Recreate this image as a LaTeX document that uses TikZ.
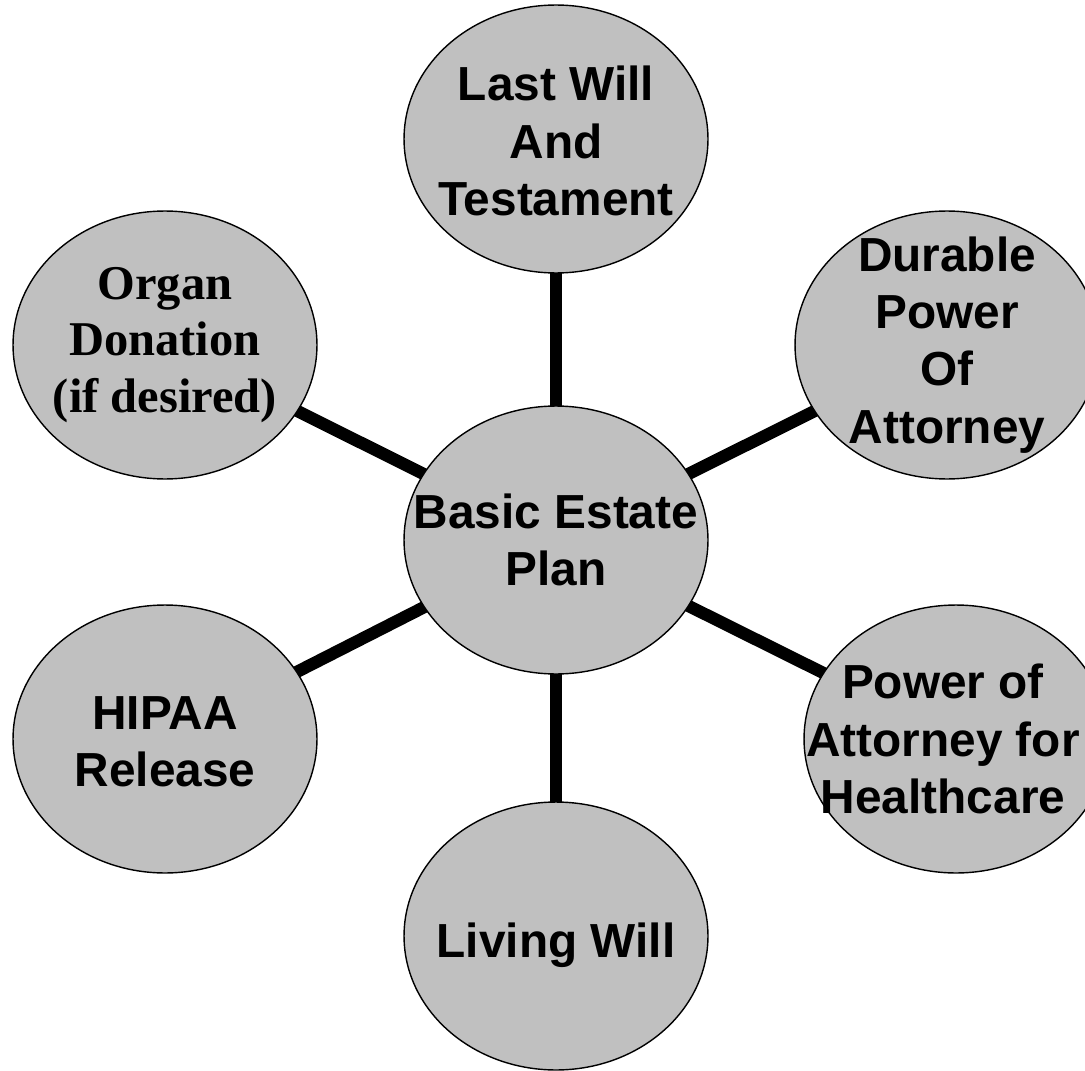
\documentclass[tikz,border=0pt]{standalone}
\usepackage{fontspec}
\setmainfont{Liberation Sans}
\newfontfamily\serifbold{Liberation Serif}
\definecolor{bubblegray}{RGB}{192,192,192}
\usetikzlibrary{shapes.geometric, backgrounds}

\begin{document}
\begin{tikzpicture}[x=0.02cm, y=-0.02cm,
    bubble/.style={ellipse, draw=black, line width=0.8pt, fill=bubblegray,
      minimum width=6.08cm, minimum height=5.36cm, inner sep=0pt},
    bubbletext/.style={align=center, inner sep=0pt,
      font=\bfseries\fontsize{27.2}{32.5}\selectfont},
    spoke/.style={line width=7pt}]
    \useasboundingbox (0,0) rectangle (1085,1071);

    % === Bubbles ===
    \node[bubble] (plan) at (556,540) {};
    \node[bubble] (will) at (556,139) {};
    \node[bubble] (durable) at (947,345) {};
    \node[bubble] (healthcare) at (956,739) {};
    \node[bubble] (living) at (556,936) {};
    \node[bubble] (hipaa) at (165,739) {};
    \node[bubble] (organ) at (165,345) {};

    % === Labels ===
    \node[bubbletext] (plantext) at (plan) {Basic Estate\\Plan};
    \node[bubbletext] (willtext) at ([yshift=-0.04cm]will) {Last Will\\And\\Testament};
    \node[bubbletext] (durabletext) at (durable) {Durable\\Power\\Of\\Attorney};
    \node[bubbletext] (healthcaretext) at ([xshift=-0.26cm]healthcare) {Power of\\Attorney for\\Healthcare};
    \node[bubbletext] (livingtext) at ([yshift=-0.18cm]living) {Living Will};
    \node[bubbletext] (hipaatext) at ([yshift=-0.05cm]hipaa) {HIPAA\\Release};
    % Times face for this one
    \node[bubbletext, font=\serifbold\bfseries\fontsize{27.6}{32}\selectfont]
      (organtext) at (organ) {Organ\\Donation\\(if desired)};

    % === Spokes (behind the bubbles) ===
    \begin{scope}[on background layer]
      \foreach \leaf in {will, durable, healthcare, living, hipaa, organ}
        \draw[spoke] (plan.center) -- (\leaf.center);
    \end{scope}
\end{tikzpicture}
\end{document}
